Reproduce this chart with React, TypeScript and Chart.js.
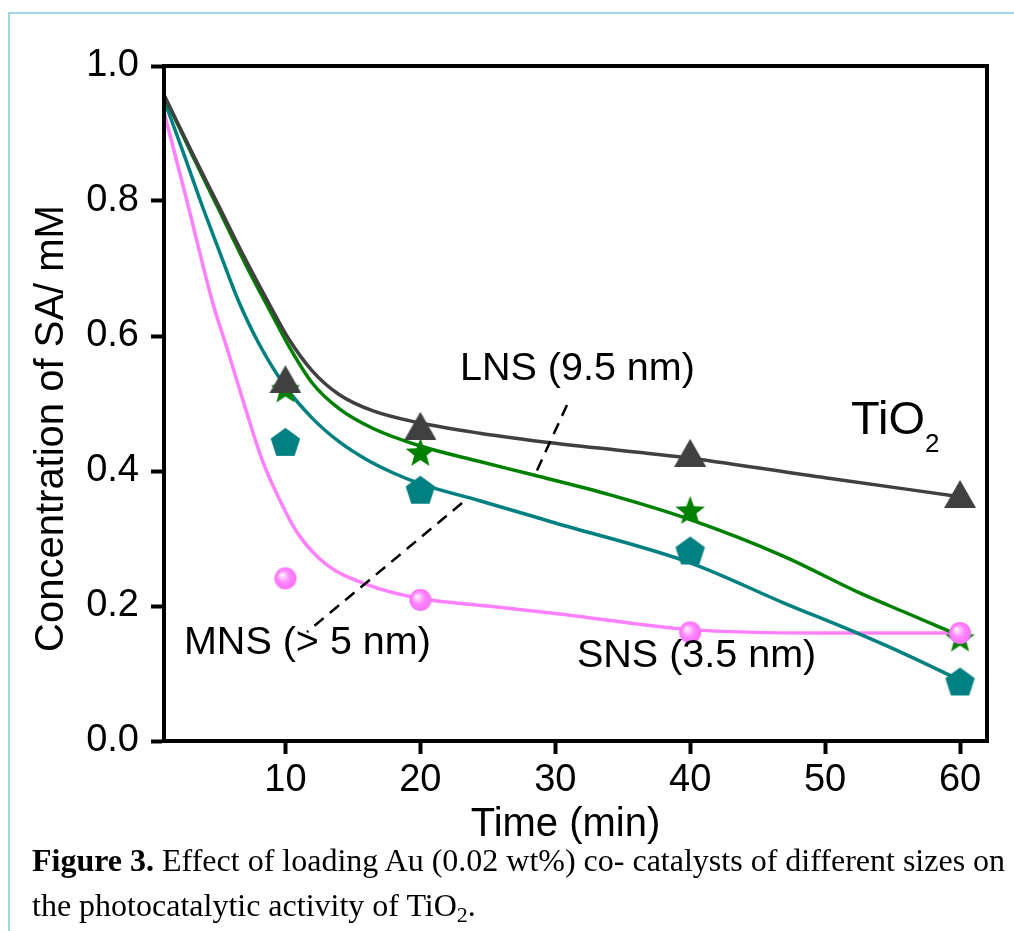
import React, { useEffect, useRef } from 'react';
import { Chart, registerables } from 'chart.js';

Chart.register(...registerables);

// Axis ticks
const xTickValues = [10, 20, 30, 40, 50, 60];
const yTickValues = [0, 0.2, 0.4, 0.6, 0.8, 1.0];

// Measured concentrations (mM) at the sampling times (min)
const sampleTimes = [10, 20, 40, 60];
const tio2Measured = [0.536, 0.467, 0.427, 0.366];
const lnsMeasured = [0.52, 0.426, 0.34, 0.151];
const mnsMeasured = [0.441, 0.37, 0.28, 0.086];
const snsMeasured = [0.241, 0.209, 0.161, 0.16];

// Fitted decay curves
const tio2FitTime = [1, 3, 5, 7, 9, 10.2, 12, 14, 16.5, 20, 24.4, 30, 40, 50, 60];
const tio2FitConc = [0.957, 0.875, 0.795, 0.715, 0.64, 0.597, 0.548, 0.513, 0.489, 0.471, 0.456, 0.441, 0.419, 0.39, 0.362];

const lnsFitTime = [1, 3, 5, 7, 9, 10.2, 12, 14, 16.5, 20, 24.4, 28.4, 34, 40, 46.9, 52.6, 56, 60];
const lnsFitConc = [0.957, 0.872, 0.79, 0.708, 0.632, 0.587, 0.53, 0.492, 0.463, 0.437, 0.414, 0.394, 0.365, 0.328, 0.274, 0.219, 0.19, 0.156];

const mnsFitTime = [1, 2.5, 3.7, 5, 6.5, 8, 10, 12, 14, 16, 18, 20, 24.4, 30, 40, 47, 52, 56, 60];
const mnsFitConc = [0.95, 0.868, 0.8, 0.731, 0.653, 0.59, 0.525, 0.478, 0.443, 0.417, 0.397, 0.381, 0.356, 0.323, 0.264, 0.204, 0.163, 0.128, 0.09];

const snsFitTime = [1, 2.7, 4.6, 5.7, 7, 8.3, 10, 11, 13, 16, 20, 25, 30, 40, 50, 60];
const snsFitConc = [0.932, 0.8, 0.65, 0.58, 0.495, 0.415, 0.34, 0.305, 0.262, 0.232, 0.211, 0.2, 0.189, 0.165, 0.16, 0.16];

const COLORS = {
  tio2: '#404040',
  lns: '#008000',
  mns: '#008080',
  sns: '#ff80ff',
};

const SANS = "'Liberation Sans', Arial, Helvetica, sans-serif";
const SERIF = "'Liberation Serif', 'Times New Roman', Times, serif";

// Curve labels and leader lines, anchored in data units
const curveLabels = [
  { text: 'LNS (9.5 nm)', x: 22.94, y: 0.535 },
  { text: 'SNS (3.5 nm)', x: 31.61, y: 0.1096 },
  { text: 'MNS (> 5 nm)', x: 2.48, y: 0.1289 },
];
const tio2Label = { x: 51.92, y: 0.4548 };
const leaderLines = [
  [{ x: 30.87, y: 0.4978 }, { x: 28.42, y: 0.391 }],
  [{ x: 23.09, y: 0.3526 }, { x: 11.6, y: 0.1615 }],
];

const toPoints = (xs: number[], ys: number[]) => xs.map((x, i) => ({ x, y: ys[i] }));

function makeCanvas(w: number, h: number) {
  const c = document.createElement('canvas');
  c.width = w;
  c.height = h;
  return c;
}

function triangleMarker(color: string) {
  const w = 32;
  const h = 28;
  const c = makeCanvas(w, h);
  const g = c.getContext('2d')!;
  g.fillStyle = color;
  g.beginPath();
  g.moveTo(w / 2, 0);
  g.lineTo(w, h);
  g.lineTo(0, h);
  g.closePath();
  g.fill();
  return c;
}

function polygonMarker(color: string, radius: number, sides: number, innerRatio?: number) {
  const size = Math.ceil(radius * 2) + 2;
  const c = makeCanvas(size, size);
  const g = c.getContext('2d')!;
  const cx = size / 2;
  const cy = size / 2;
  g.fillStyle = color;
  g.beginPath();
  const steps = innerRatio ? sides * 2 : sides;
  for (let i = 0; i < steps; i++) {
    const r = innerRatio && i % 2 === 1 ? radius * innerRatio : radius;
    const a = -Math.PI / 2 + (i * 2 * Math.PI) / steps;
    const px = cx + r * Math.cos(a);
    const py = cy + r * Math.sin(a);
    if (i === 0) g.moveTo(px, py);
    else g.lineTo(px, py);
  }
  g.closePath();
  g.fill();
  return c;
}

function sphereMarker(radius: number) {
  const size = Math.ceil(radius * 2) + 2;
  const c = makeCanvas(size, size);
  const g = c.getContext('2d')!;
  const cx = size / 2;
  const cy = size / 2;
  const grad = g.createRadialGradient(cx - radius * 0.35, cy - radius * 0.35, 0, cx, cy, radius);
  grad.addColorStop(0, '#ffffff');
  grad.addColorStop(0.22, '#ffd0ff');
  grad.addColorStop(0.55, '#ff88ff');
  grad.addColorStop(1, '#f870f8');
  g.fillStyle = grad;
  g.beginPath();
  g.arc(cx, cy, radius, 0, Math.PI * 2);
  g.fill();
  return c;
}

const annotationPlugin = {
  id: 'figureAnnotations',
  afterDatasetsDraw(chart: any) {
    const { ctx, chartArea, scales } = chart;
    const xs = scales.x;
    const ys = scales.y;
    ctx.save();

    // frame around the plot
    ctx.strokeStyle = '#000';
    ctx.lineWidth = 4;
    ctx.strokeRect(chartArea.left, chartArea.top, chartArea.right - chartArea.left, chartArea.bottom - chartArea.top);

    // dashed leader lines
    ctx.lineWidth = 2.5;
    ctx.setLineDash([12, 8]);
    leaderLines.forEach((seg) => {
      ctx.beginPath();
      ctx.moveTo(xs.getPixelForValue(seg[0].x), ys.getPixelForValue(seg[0].y));
      ctx.lineTo(xs.getPixelForValue(seg[1].x), ys.getPixelForValue(seg[1].y));
      ctx.stroke();
    });
    ctx.setLineDash([]);

    // curve labels
    ctx.fillStyle = '#000';
    ctx.textAlign = 'left';
    ctx.textBaseline = 'alphabetic';
    ctx.font = `39.5px ${SANS}`;
    curveLabels.forEach((l) => {
      ctx.fillText(l.text, xs.getPixelForValue(l.x), ys.getPixelForValue(l.y));
    });

    // TiO2 with subscript
    const tx = xs.getPixelForValue(tio2Label.x);
    const ty = ys.getPixelForValue(tio2Label.y);
    ctx.font = `47px ${SANS}`;
    ctx.fillText('TiO', tx, ty);
    const w = ctx.measureText('TiO').width;
    ctx.font = `26px ${SANS}`;
    ctx.fillText('2', tx + w, ty + 17.5);

    // axis titles
    ctx.font = `40px ${SANS}`;
    ctx.textAlign = 'center';
    const midX = (chartArea.left + chartArea.right) / 2;
    const midY = (chartArea.top + chartArea.bottom) / 2;
    ctx.fillText('Time (min)', midX - 10, chartArea.bottom + 95);
    ctx.translate(chartArea.left - 101, midY + 25);
    ctx.rotate(-Math.PI / 2);
    ctx.fillText('Concentration of SA/ mM', 0, 0);
    ctx.restore();
  },
};

export default function App() {
  const canvasRef = useRef<HTMLCanvasElement | null>(null);

  useEffect(() => {
    if (!canvasRef.current) return;
    const triangle = triangleMarker(COLORS.tio2);
    const star = polygonMarker(COLORS.lns, 15.5, 5, 0.42);
    const pentagon = polygonMarker(COLORS.mns, 15.5, 5);
    const sphere = sphereMarker(11);

    const fitLine = (xs: number[], ys: number[], color: string) => ({
      type: 'scatter' as const,
      data: toPoints(xs, ys),
      showLine: true,
      borderColor: color,
      borderWidth: 3.5,
      pointRadius: 0,
      cubicInterpolationMode: 'monotone' as const,
      fill: false,
      order: 10,
    });
    const markers = (ys: number[], style: HTMLCanvasElement, order: number) => ({
      type: 'scatter' as const,
      data: toPoints(sampleTimes, ys),
      showLine: false,
      pointStyle: style,
      pointRadius: 15,
      order,
    });

    const chart = new Chart(canvasRef.current, {
      type: 'scatter',
      data: {
        datasets: [
          fitLine(tio2FitTime, tio2FitConc, COLORS.tio2),
          fitLine(lnsFitTime, lnsFitConc, COLORS.lns),
          fitLine(mnsFitTime, mnsFitConc, COLORS.mns),
          fitLine(snsFitTime, snsFitConc, COLORS.sns),
          markers(lnsMeasured, star, 4),
          markers(mnsMeasured, pentagon, 3),
          markers(tio2Measured, triangle, 2),
          markers(snsMeasured, sphere, 1),
        ] as any,
      },
      options: {
        animation: false,
        responsive: false,
        maintainAspectRatio: false,
        layout: { autoPadding: false, padding: { left: 0, top: 66, right: 27, bottom: 0 } },
        plugins: { legend: { display: false }, tooltip: { enabled: false } },
        scales: {
          x: {
            type: 'linear',
            min: 1,
            max: 62,
            afterBuildTicks: (s: any) => {
              s.ticks = xTickValues.map((v) => ({ value: v }));
            },
            afterFit: (s: any) => {
              s.height = 104;
            },
            grid: { display: true, drawOnChartArea: false, drawTicks: true, tickLength: 13, tickWidth: 4, tickColor: '#000' },
            border: { display: true, width: 4, color: '#000' },
            ticks: { color: '#000', font: { family: SANS, size: 38 }, padding: 4, maxRotation: 0, autoSkip: false },
          },
          y: {
            type: 'linear',
            min: 0,
            max: 1,
            afterBuildTicks: (s: any) => {
              s.ticks = yTickValues.map((v) => ({ value: v }));
            },
            afterFit: (s: any) => {
              s.width = 164;
            },
            grid: { display: true, drawOnChartArea: false, drawTicks: true, tickLength: 13, tickWidth: 4, tickColor: '#000' },
            border: { display: true, width: 4, color: '#000' },
            ticks: {
              color: '#000',
              font: { family: SANS, size: 38 },
              padding: 12,
              autoSkip: false,
              callback: (v: any) => Number(v).toFixed(1),
            },
          },
        },
      },
      plugins: [annotationPlugin],
    } as any);
    return () => chart.destroy();
  }, []);

  return (
    <div style={{ position: 'absolute', left: 0, top: 0, width: 1014, height: 931, background: '#fff', overflow: 'hidden' }}>
      <div
        style={{
          position: 'absolute',
          left: 8,
          top: 12,
          width: 1020,
          height: 940,
          borderLeft: '2.5px solid #a3d5e5',
          borderTop: '2.5px solid #a3d5e5',
        }}
      />
      <canvas ref={canvasRef} width={1014} height={845} style={{ position: 'absolute', left: 0, top: 0 }} />
      <div
        style={{
          position: 'absolute',
          left: 32,
          top: 838,
          fontFamily: SERIF,
          fontSize: 32,
          lineHeight: '45px',
          color: '#000',
          whiteSpace: 'nowrap',
        }}
      >
        <b>Figure 3.</b> Effect of loading Au (0.02 wt%) co- catalysts of different sizes on
        <br />
        the photocatalytic activity of TiO
        <span style={{ fontSize: 22, position: 'relative', top: 6 }}>2</span>.
      </div>
    </div>
  );
}
